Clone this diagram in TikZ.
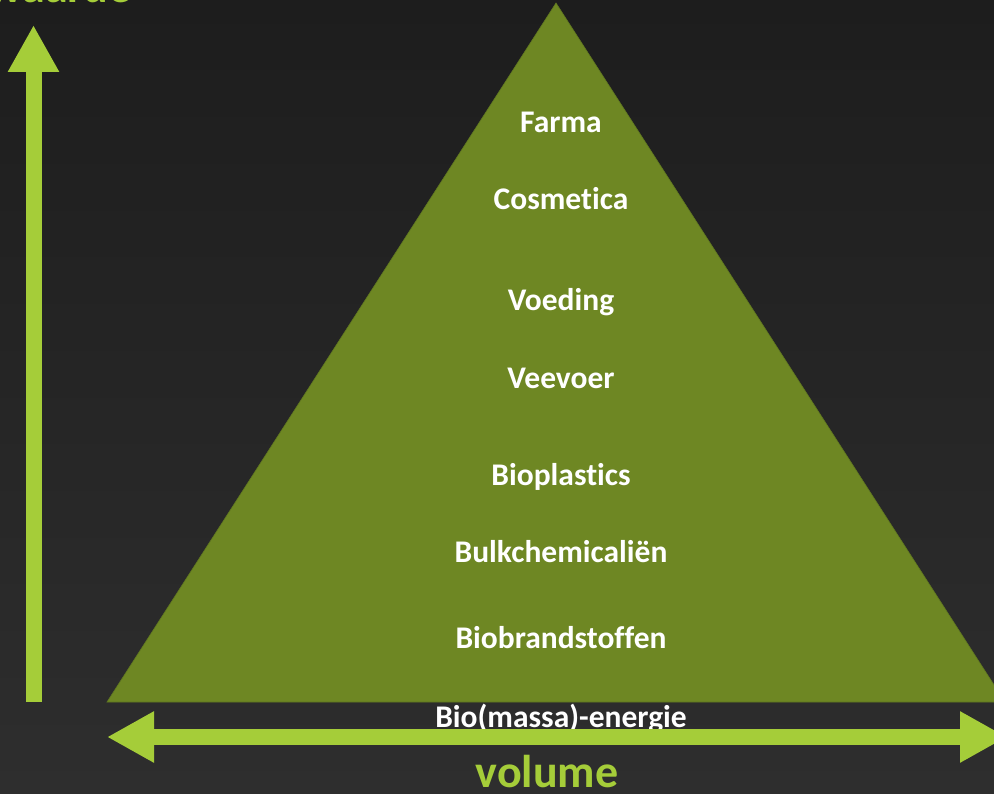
\documentclass[tikz,border=0pt]{standalone}
\usepackage{fontspec}
\setmainfont{Carlito}[Ligatures={NoCommon}]
\usetikzlibrary{arrows.meta,positioning}
\definecolor{bgtop}{HTML}{1D1D1D}
\definecolor{bgbottom}{HTML}{2E2E2E}
\definecolor{olive}{HTML}{6E8723}
\definecolor{oliveedge}{HTML}{5F7620}
\definecolor{lime}{HTML}{A5CD39}

\begin{document}
\begin{tikzpicture}[x=1pt,y=-1pt,
  level/.style={text=white,font=\bfseries\fontsize{31.5}{33}\selectfont,anchor=base},
  axis/.style={draw=lime,line width=16pt},
  axislabel/.style={text=lime,font=\bfseries\fontsize{46}{48}\selectfont,anchor=base}]
\shade[top color=bgtop,bottom color=bgbottom] (0,0) rectangle (994,794);
\useasboundingbox (0,0) rectangle (994,794);
\coordinate (apex) at (556,3);
\coordinate (baseleft) at (107,702);
\coordinate (baseright) at (1005,702);
\filldraw[fill=olive,draw=oliveedge,line width=0.6pt] (apex) -- (baseleft) -- (baseright) -- cycle;
\node[level] (farma) at (561,133) {Farma};
\node[level] (cosmetica) at (561,210) {Cosmetica};
\node[level] (voeding) at (561,311) {Voeding};
\node[level] (veevoer) at (561,389) {Veevoer};
\node[level] (bioplastics) at (561,485) {Bioplastics};
\node[level] (bulk) at (561,562) {Bulkchemicaliën};
\node[level] (biobrand) at (561,648) {Biobrandstoffen};
\node[level] (energie) at (561,727) {Bio(massa)-energie};
\coordinate (yfoot) at (33.5,702);
\coordinate (ytop) at (33.5,25);
\coordinate (xleft) at (107,737);
\coordinate (xright) at (1007,737);
\draw[axis,-{Triangle[length=47pt,width=48pt]}] (yfoot) -- (ytop);
\draw[axis,{Triangle[length=47pt,width=48pt]}-{Triangle[length=47pt,width=48pt]}] (xleft) -- (xright);
\node[axislabel] (waarde) at (60,3) {waarde};
\node[axislabel] (volume) at (547,787) {volume};
\end{tikzpicture}
\end{document}
